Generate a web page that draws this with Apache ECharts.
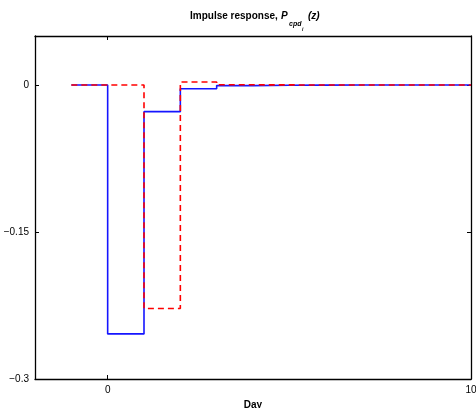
<!DOCTYPE html>
<html><head><meta charset="utf-8">
<script src="https://cdn.jsdelivr.net/npm/echarts@6/dist/echarts.min.js"></script>
<style>html,body{margin:0;padding:0;background:#fff}#c{width:476px;height:408px}</style>
</head><body><div id="c"></div>
<script>
const days = [-1, 0, 1, 2, 3, 4, 5, 6, 7, 8, 9, 10];
const blueValues = [0, -0.254, -0.0272, -0.0038, -0.0006, -0.0002, -0.0001, 0, 0, 0, 0, 0];
const redValues  = [0, 0, -0.228, 0.003, 0.0002, 0.0001, 0, 0, 0, 0, 0, 0];
const xTicks = [0, 10];
const yTicks = [-0.3, -0.15, 0];
const yTickLabels = {'-0.3': '\u22120.3', '-0.15': '\u22120.15', '0': '0'};

const FONT = 'Liberation Sans';
const chart = echarts.init(document.getElementById('c'), null, {renderer: 'canvas'});
const axisLineStyle = {color: '#000', width: 1.3};
const mk = (xs, ys) => xs.map((x, i) => [x, ys[i]]);
chart.setOption({
  animation: false,
  backgroundColor: '#fff',
  grid: {left: 35, right: 5, top: 36, bottom: 29, containLabel: false, outerBoundsMode: 'none'},
  xAxis: [{
    type: 'value', min: -2, max: 10, position: 'bottom',
    axisLine: {show: true, onZero: false, lineStyle: axisLineStyle},
    axisTick: {show: true, inside: true, length: 4, customValues: xTicks, lineStyle: {color: '#000'}},
    axisLabel: {customValues: xTicks, color: '#000', fontFamily: FONT, fontSize: 10, margin: 6},
    splitLine: {show: false},
    name: 'Day', nameLocation: 'middle', nameGap: 16,
    nameTextStyle: {fontFamily: FONT, fontSize: 10, fontWeight: 'bold', color: '#000'}
  }, {
    type: 'value', min: -2, max: 10, position: 'top',
    axisLine: {show: true, onZero: false, lineStyle: axisLineStyle},
    axisTick: {show: true, inside: true, length: 4, customValues: xTicks, lineStyle: {color: '#000'}},
    axisLabel: {show: false}, splitLine: {show: false}
  }],
  yAxis: [{
    type: 'value', min: -0.3, max: 0.05, position: 'left',
    axisLine: {show: true, onZero: false, lineStyle: axisLineStyle},
    axisTick: {show: true, inside: true, length: 4, customValues: yTicks, lineStyle: {color: '#000'}},
    axisLabel: {customValues: yTicks, color: '#000', fontFamily: FONT, fontSize: 10, margin: 6,
      formatter: v => yTickLabels[String(v)] ?? String(v)},
    splitLine: {show: false}
  }, {
    type: 'value', min: -0.3, max: 0.05, position: 'right',
    axisLine: {show: true, onZero: false, lineStyle: axisLineStyle},
    axisTick: {show: true, inside: true, length: 4, customValues: yTicks, lineStyle: {color: '#000'}},
    axisLabel: {show: false}, splitLine: {show: false}
  }],
  series: [{
    type: 'line', step: 'end', data: mk(days, blueValues), symbol: 'none',
    lineStyle: {color: '#1515ff', width: 1.6}, z: 2
  }, {
    type: 'line', step: 'end', data: mk(days, redValues), symbol: 'none',
    lineStyle: {color: '#ff0000', width: 1.6, type: [6, 4]}, z: 3
  }],
  graphic: [
    {type: 'text', x: 190, y: 16, style: {text: 'Impulse response, ', font: 'bold 10px "' + FONT + '"', fill: '#000', textVerticalAlign: 'middle'}},
    {type: 'text', x: 281, y: 16, style: {text: 'P', font: 'italic bold 10px "' + FONT + '"', fill: '#000', textVerticalAlign: 'middle'}},
    {type: 'text', x: 289, y: 24, style: {text: 'cpd', font: 'italic bold 7px "' + FONT + '"', fill: '#000', textVerticalAlign: 'middle'}},
    {type: 'text', x: 302, y: 29.5, style: {text: 'i', font: 'italic bold 5px "' + FONT + '"', fill: '#000', textVerticalAlign: 'middle'}},
    {type: 'text', x: 308, y: 16, style: {text: '(z)', font: 'italic bold 10px "' + FONT + '"', fill: '#000', textVerticalAlign: 'middle'}}
  ]
});
</script>
</body></html>
